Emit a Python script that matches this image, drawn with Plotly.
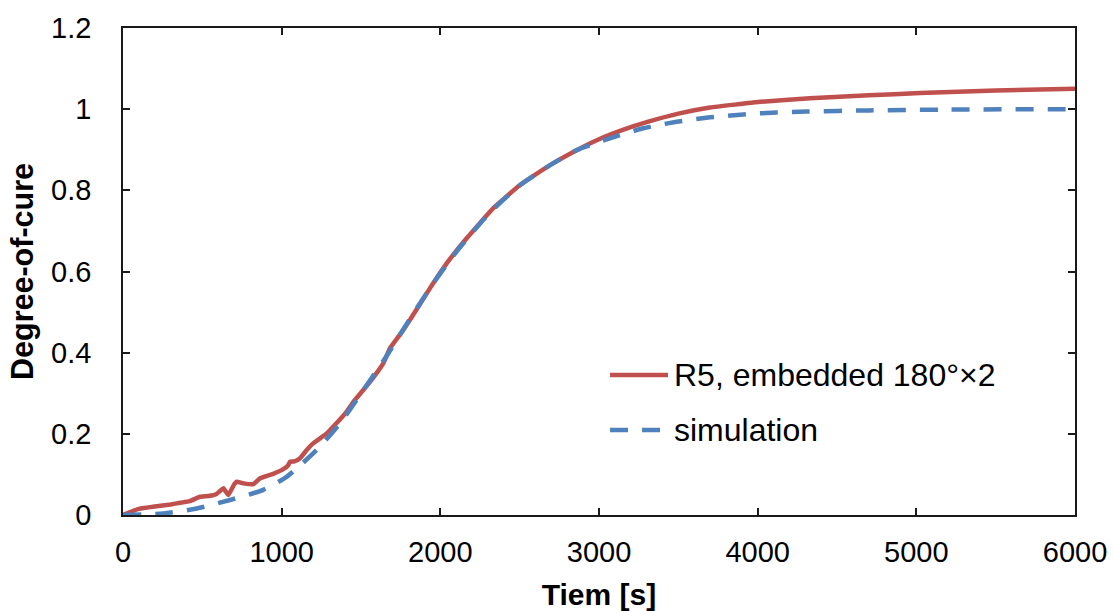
import plotly.graph_objects as go

# ---- data ----
red_t = [0, 50, 100, 200, 300, 360, 420, 485, 540, 590, 633, 664, 700, 716, 760, 822,
         863, 950, 1010, 1040, 1052, 1080, 1116, 1158, 1200, 1284, 1326, 1410, 1452,
         1557, 1641, 1683, 1750, 1809, 1935, 2040, 2166, 2334, 2502, 2691, 2859, 3000,
         3150, 3300, 3500, 3700, 4015, 4330, 4700, 5023, 5500, 6000]
red_v = [0.000, 0.008, 0.015, 0.021, 0.026, 0.030, 0.034, 0.045, 0.047, 0.052, 0.066,
         0.049, 0.075, 0.082, 0.078, 0.076, 0.090, 0.102, 0.113, 0.122, 0.131, 0.132,
         0.140, 0.160, 0.177, 0.201, 0.218, 0.255, 0.279, 0.328, 0.374, 0.411, 0.447,
         0.481, 0.559, 0.620, 0.682, 0.756, 0.813, 0.862, 0.899, 0.926, 0.949, 0.968,
         0.989, 1.004, 1.018, 1.027, 1.034, 1.040, 1.046, 1.050]

sim_t = [0, 254, 464, 674, 884, 1031, 1220, 1368, 1515, 1650, 1800, 1950, 2100, 2300,
         2500, 2700, 2859, 3069, 3279, 3490, 3700, 3910, 4120, 4309, 4700, 5200, 6000]
sim_v = [0.000, 0.004, 0.016, 0.037, 0.062, 0.094, 0.160, 0.226, 0.308, 0.385, 0.478,
         0.568, 0.648, 0.740, 0.812, 0.864, 0.899, 0.928, 0.953, 0.969, 0.980, 0.987,
         0.992, 0.994, 0.997, 0.999, 1.000]

legend_labels = ["R5, embedded 180°×2", "simulation"]
x_ticks = [0, 1000, 2000, 3000, 4000, 5000, 6000]
y_ticks = [0, 0.2, 0.4, 0.6, 0.8, 1.0, 1.2]
y_tick_text = ["0", "0.2", "0.4", "0.6", "0.8", "1", "1.2"]

RED = "#C0504D"
BLUE = "#4F81BD"
FONT = "Liberation Sans, Arial, sans-serif"

fig = go.Figure()
fig.add_trace(go.Scatter(x=red_t, y=red_v, mode="lines", name=legend_labels[0],
                         line=dict(color=RED, width=4.5, shape="spline", smoothing=0.3),
                         showlegend=False))
fig.add_trace(go.Scatter(x=sim_t, y=sim_v, mode="lines", name=legend_labels[1],
                         line=dict(color=BLUE, width=4.5, dash="18px,14px",
                                   shape="spline", smoothing=0.6),
                         showlegend=False))

# custom legend (paper coordinates)
lx0, lx1, ltx = 0.5116, 0.5725, 0.5767
for yy, col, dash, lab in [(0.2875, RED, "solid", legend_labels[0]),
                           (0.1745, BLUE, "18px,14px", legend_labels[1])]:
    fig.add_shape(type="line", xref="paper", yref="paper", x0=lx0, x1=lx1, y0=yy, y1=yy,
                  line=dict(color=col, width=4.5, dash=dash))
    fig.add_annotation(xref="paper", yref="paper", x=ltx, y=yy, text=lab, showarrow=False,
                       xanchor="left", yanchor="middle",
                       font=dict(family=FONT, size=32, color="black"))

axis_common = dict(showgrid=False, zeroline=False, showline=True, linecolor="#1a1a1a",
                   linewidth=1.5, mirror="ticks", ticks="inside", ticklen=7,
                   tickwidth=1.5, tickcolor="#1a1a1a", automargin=False,
                   tickfont=dict(family=FONT, size=29, color="black"))

fig.update_layout(
    width=1113, height=611,
    margin=dict(l=123, r=38, t=28, b=96),
    paper_bgcolor="white", plot_bgcolor="white",
    xaxis=dict(range=[0, 6000], tickvals=x_ticks, ticklabelstandoff=10,
               title=dict(text="<b>Tiem [s]</b>", standoff=20,
                          font=dict(family=FONT, size=30, color="black")),
               **axis_common),
    yaxis=dict(range=[0, 1.2], tickvals=y_ticks, ticktext=y_tick_text,
               ticklabelstandoff=24,
               title=dict(text="<b>Degree-of-cure</b>", standoff=8,
                          font=dict(family=FONT, size=30.5, color="black")),
               **axis_common),
)

fig.write_html("out.html")
